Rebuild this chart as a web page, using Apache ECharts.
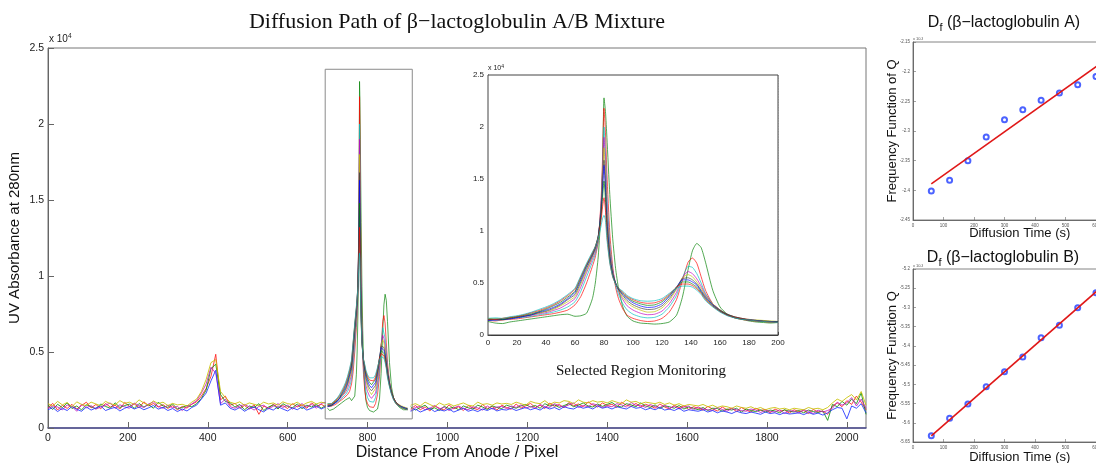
<!DOCTYPE html>
<html><head><meta charset="utf-8">
<script src="https://cdn.jsdelivr.net/npm/echarts@6/dist/echarts.min.js"></script>
<style>html,body{margin:0;padding:0;background:#fff}#c{width:1096px;height:463px}</style>
</head><body><div id="c"></div>
<script>
// ---------------- DATA ----------------
// Main plot baseline traces: sampled every 12 pixels, left part from 0, right part from 908
const baseStep = 12;
const leftStart = 0;
const rightStart = 908;
const baseL1 = [1350,1620,1180,1500,1290,1560,1240,1480,1700,1320,1550,1260,1610,1380,1500,1250,1680,1420,1590,1330,1720,1460,1610,1380,1540,1290,1470,1200,1420,1310,1560,1720,2100,2600,3400,4850,1850,2100,1500,1620,1300,1480,1250,1530,900,1450,1300,1560,1350,1480,1280,1600,1390,1520,1300,1650,1420,1560,1380];
const baseL2 = [1480,1220,1560,1340,1650,1280,1450,1190,1530,1400,1260,1580,1420,1300,1660,1350,1480,1570,1290,1610,1380,1540,1300,1690,1450,1360,1580,1250,1350,1480,1400,1600,1950,2500,3900,4200,2200,1750,1650,1380,1550,1200,1450,1340,1600,1150,1380,1520,1250,1600,1420,1330,1580,1270,1500,1380,1560,1300,1490];
const baseL3 = [1300,1450,1380,1190,1520,1420,1100,1560,1330,1470,1240,1380,1500,1650,1280,1530,1390,1300,1640,1470,1350,1580,1720,1420,1300,1500,1330,1420,1150,1400,1580,1800,2300,2900,4000,3600,1600,1900,1400,1300,1450,1550,1380,1180,1420,1500,1260,1430,1600,1350,1500,1240,1450,1600,1380,1550,1300,1620,1700];
const baseL4 = [1200,1350,1080,1300,1150,1420,1230,1100,1380,1180,1320,1450,1150,1270,1360,1120,1300,1420,1250,1380,1200,1330,1480,1240,1360,1150,1280,1080,1250,1120,1350,1500,1900,2300,3100,3800,1500,1650,1300,1180,1350,1100,1280,1400,1200,1060,1300,1180,1400,1250,1120,1330,1200,1400,1180,1300,1450,1250,1400];
const baseL5 = [1600,1450,1750,1520,1680,1400,1720,1550,1480,1700,1580,1460,1750,1600,1520,1800,1620,1700,1550,1850,1640,1500,1780,1600,1700,1480,1620,1520,1560,1450,1700,1900,2400,3200,4300,4500,2400,2000,1700,1600,1720,1500,1650,1560,1480,1700,1580,1650,1500,1720,1600,1550,1700,1480,1650,1750,1580,1700,1620];
const baseR1 = [1250,1480,1200,1390,1120,1450,1300,1180,1520,1260,1400,1150,1480,1320,1200,1550,1280,1420,1180,1500,1350,1230,1580,1300,1460,1620,1350,1500,1280,1640,1420,1550,1330,1680,1460,1580,1400,1720,1520,1380,1650,1480,1560,1350,1700,1500,1420,1620,1380,1560,1450,1300,1580,1380,1250,1500,1340,1460,1220,1400,1300,1180,1420,1250,1120,1380,1200,1300,1080,1350,1180,1050,1300,1150,1220,1000,1250,1100,1180,980,1200,1080,1150,950,1220,1050,1120,900,1450,1650,1400,1800,1550,2100,1700,1200];
const baseR2 = [1400,1180,1350,1500,1220,1330,1150,1420,1280,1380,1200,1450,1330,1250,1500,1380,1220,1460,1350,1280,1500,1400,1300,1450,1550,1380,1480,1300,1600,1450,1520,1350,1480,1600,1400,1500,1650,1450,1380,1580,1420,1550,1680,1450,1380,1600,1520,1400,1650,1450,1350,1520,1280,1450,1400,1300,1480,1250,1380,1300,1200,1350,1150,1300,1280,1100,1250,1180,1300,1050,1250,1150,1080,1200,1050,1180,1120,1000,1200,1100,1050,1150,1000,1180,1080,1020,1120,500,1550,1400,1750,1500,1900,1600,2300,900];
const baseR3 = [1150,1350,1420,1200,1300,1480,1250,1380,1150,1320,1450,1280,1200,1400,1320,1180,1450,1250,1380,1420,1280,1450,1350,1520,1300,1420,1280,1550,1400,1350,1600,1450,1380,1520,1650,1350,1480,1400,1600,1500,1350,1450,1400,1600,1520,1380,1680,1480,1500,1350,1550,1400,1350,1500,1300,1420,1250,1380,1450,1200,1380,1250,1200,1150,1350,1220,1100,1280,1200,1150,1100,1250,1180,1020,1150,1100,1050,1200,950,1150,1100,980,1200,1100,950,1180,1050,1150,1300,1700,1500,1650,2000,1450,1900,1300];
const baseR4 = [1100,1250,1050,1180,1300,1080,1200,1120,1250,1050,1180,1300,1100,1200,1080,1250,1150,1300,1120,1220,1180,1300,1150,1250,1350,1200,1300,1180,1380,1250,1350,1200,1400,1300,1250,1420,1300,1380,1250,1450,1300,1380,1250,1400,1320,1250,1420,1300,1350,1200,1300,1200,1350,1180,1250,1150,1300,1100,1200,1150,1100,1200,1050,1150,1000,1120,1050,950,1100,1000,950,1050,980,900,1050,950,1000,880,1000,920,950,1000,880,1020,900,980,850,1000,1200,1350,1300,600,1450,1300,1600,1000];
const baseR5 = [1500,1600,1450,1700,1550,1400,1650,1500,1600,1450,1550,1650,1500,1450,1700,1550,1600,1500,1650,1580,1620,1550,1700,1600,1500,1750,1650,1600,1800,1550,1700,1650,1800,1750,1600,1850,1700,1650,1800,1700,1750,1650,1800,1700,1600,1850,1700,1750,1600,1700,1650,1600,1700,1550,1650,1500,1600,1450,1550,1500,1450,1550,1400,1500,1350,1450,1400,1300,1450,1350,1300,1400,1250,1350,1200,1300,1350,1250,1300,1200,1300,1250,1200,1350,1250,1300,1200,1350,1650,1900,1750,2000,2200,1850,2400,1500];
const baseLeft = [baseL1, baseL2, baseL3, baseL4, baseL5];
const baseRight = [baseR1, baseR2, baseR3, baseR4, baseR5];
const baseColors = ['#ff2020', '#109010', '#c020c0', '#2030ff', '#c8c000'];

// Selected region (inset) traces, x in pixels relative to region start
const regionOffset = 700;
const selectedRegionX = [694, 912];
const selectedRegionY = [600, 23600];
const insetX = [0,5,10,15,20,25,30,35,40,45,50,55,60,64,68,72,74,76,78,79,80,81,82,84,86,88,90,93,96,100,105,110,115,120,125,130,134,138,141,144,147,150,155,160,165,170,175,180,185,190,195,200];
const trace1 = [1300,1150,1100,1250,1350,1450,1550,1650,1750,1850,1950,2000,1800,1850,2100,3500,5000,7500,12000,16000,22800,21500,19000,13500,9300,6400,4500,2700,1800,1350,1150,1100,1050,1100,1250,1900,3600,6300,8100,8800,8400,7000,4300,2700,2000,1650,1500,1350,1250,1200,1150,1200];
const trace2 = [1400,1350,1450,1500,1550,1650,1750,1850,1950,2050,2200,2400,2900,3700,5000,6600,7500,9000,13000,17000,21800,19500,15500,9800,6600,4600,3500,2500,1900,1600,1400,1300,1350,1600,2200,3400,5200,7000,7400,6900,5600,4300,3000,2400,1900,1650,1500,1400,1350,1300,1250,1250];
const trace3 = [1450,1400,1500,1550,1650,1700,1800,1950,2050,2200,2400,2700,3200,4200,5600,7000,7800,9000,12500,16000,20000,17500,13500,8800,6300,4800,3900,3000,2400,2000,1750,1650,1700,2000,2700,3800,5400,6600,6500,5900,5000,4000,3000,2400,1950,1700,1550,1450,1400,1350,1300,1300];
const trace4 = [1500,1450,1550,1600,1700,1800,1900,2050,2150,2350,2600,3000,3500,4600,6000,7300,8000,9200,12500,15500,19000,16500,12500,8300,6200,5000,4200,3400,2800,2400,2100,1950,2000,2300,3000,4100,5500,6100,5900,5400,4700,3900,3000,2400,2000,1750,1600,1500,1400,1350,1300,1300];
const trace5 = [1600,1500,1600,1650,1750,1850,1950,2100,2250,2450,2800,3200,3700,4900,6200,7500,8200,9300,12200,15000,18000,15500,11800,8000,6000,5000,4300,3600,3100,2700,2400,2200,2250,2600,3300,4400,5500,5800,5600,5100,4500,3800,3000,2400,2000,1750,1600,1500,1450,1400,1350,1300];
const trace6 = [1450,1500,1450,1600,1700,1800,1950,2150,2300,2550,2900,3400,3900,5100,6400,7600,8300,9400,12000,14500,16800,14500,11200,7700,5900,5000,4400,3800,3300,2900,2600,2450,2500,2800,3500,4500,5400,5500,5300,4900,4300,3700,2900,2400,2000,1750,1600,1450,1400,1350,1300,1250];
const trace7 = [1400,1450,1500,1550,1650,1800,1950,2200,2400,2650,3000,3500,4100,5300,6600,7700,8400,9500,11800,14000,16300,14000,10800,7500,5800,5000,4400,3900,3500,3100,2800,2650,2700,3000,3700,4600,5300,5300,5100,4800,4200,3600,2900,2300,1950,1700,1550,1450,1400,1300,1300,1250];
const trace8 = [1500,1550,1500,1650,1750,1900,2050,2250,2500,2800,3150,3650,4200,5500,6700,7800,8500,9500,11500,13200,14800,13000,10200,7200,5700,4950,4450,4000,3600,3250,3000,2850,2900,3200,3800,4600,5100,5100,4900,4600,4100,3500,2800,2300,1950,1700,1550,1450,1350,1300,1250,1250];
const trace9 = [1550,1500,1600,1700,1800,1950,2150,2350,2600,2900,3300,3800,4400,5600,6800,7900,8500,9400,11000,12300,13200,12000,9600,7000,5600,4900,4500,4100,3700,3400,3150,3050,3100,3350,3900,4600,4900,4900,4750,4450,4000,3400,2750,2250,1900,1700,1550,1450,1350,1300,1250,1200];
const trace10 = [1600,1650,1600,1750,1850,2000,2200,2450,2700,3000,3400,3900,4500,5700,6900,8000,8500,9300,10500,11200,11500,11000,9200,6900,5600,4900,4500,4200,3800,3500,3300,3250,3300,3500,4000,4500,4700,4700,4600,4300,3900,3300,2700,2200,1850,1650,1500,1450,1350,1300,1250,1200];
const insetTraces = [trace1, trace2, trace3, trace4, trace5, trace6, trace7, trace8, trace9, trace10];
const insetColors = ['#008000', '#ff0000', '#00bfbf', '#bf00bf', '#bfbf00', '#404040', '#0000ff', '#008000', '#ff0000', '#00bfbf'];

// Side panels
const diffusionTime = [60, 120, 180, 240, 300, 360, 420, 480, 540, 600];
const dfA = [-2.401, -2.383, -2.350, -2.310, -2.281, -2.264, -2.248, -2.236, -2.222, -2.208];
const fitAX = [60, 700];
const fitAY = [-2.389, -2.155];
const dfB = [-5.634, -5.588, -5.551, -5.506, -5.467, -5.429, -5.379, -5.346, -5.301, -5.262];
const fitBX = [60, 700];
const fitBY = [-5.634, -5.190];

// ---------------- CHART ----------------
const chart = echarts.init(document.getElementById('c'), null, {renderer: 'canvas'});
const SANS = '"Liberation Sans", Arial, Helvetica, sans-serif';
const SERIF = '"Liberation Serif", "Times New Roman", serif';
const plain = v => String(v);

const series = [];
baseLeft.forEach((arr, i) => {
  series.push({type: 'line', xAxisIndex: 0, yAxisIndex: 0, showSymbol: false, silent: true,
    data: arr.map((v, k) => [leftStart + k * baseStep, v]),
    lineStyle: {width: 1, color: baseColors[i], opacity: 0.85}});
});
baseRight.forEach((arr, i) => {
  series.push({type: 'line', xAxisIndex: 0, yAxisIndex: 0, showSymbol: false, silent: true,
    data: arr.map((v, k) => [rightStart + k * baseStep, v]),
    lineStyle: {width: 1, color: baseColors[i], opacity: 0.85}});
});
insetTraces.forEach((arr, i) => {
  series.push({type: 'line', xAxisIndex: 0, yAxisIndex: 0, showSymbol: false, silent: true,
    data: arr.map((v, k) => [regionOffset + insetX[k], v]),
    lineStyle: {width: 0.8, color: insetColors[i], opacity: 0.85}});
});
// selected-region rectangle
series.push({type: 'line', xAxisIndex: 0, yAxisIndex: 0, showSymbol: false, silent: true,
  data: [[selectedRegionX[0], selectedRegionY[0]], [selectedRegionX[1], selectedRegionY[0]],
         [selectedRegionX[1], selectedRegionY[1]], [selectedRegionX[0], selectedRegionY[1]],
         [selectedRegionX[0], selectedRegionY[0]]],
  lineStyle: {width: 1, color: '#8a8a8a'}, z: 5});
// inset
insetTraces.forEach((arr, i) => {
  series.push({type: 'line', xAxisIndex: 1, yAxisIndex: 1, showSymbol: false, silent: true, smooth: 0.2,
    data: arr.map((v, k) => [insetX[k], v]),
    lineStyle: {width: 0.8, color: insetColors[i], opacity: 0.85}});
});
// side panels
series.push({type: 'line', xAxisIndex: 2, yAxisIndex: 2, showSymbol: false, silent: true,
  data: fitAX.map((x, k) => [x, fitAY[k]]), lineStyle: {width: 1.6, color: '#e01818'}});
series.push({type: 'scatter', xAxisIndex: 2, yAxisIndex: 2, silent: true, symbol: 'emptyCircle', symbolSize: 5,
  data: diffusionTime.map((x, k) => [x, dfA[k]]), itemStyle: {color: '#1f3cff', borderWidth: 1.6}});
series.push({type: 'line', xAxisIndex: 3, yAxisIndex: 3, showSymbol: false, silent: true,
  data: fitBX.map((x, k) => [x, fitBY[k]]), lineStyle: {width: 1.6, color: '#e01818'}});
series.push({type: 'scatter', xAxisIndex: 3, yAxisIndex: 3, silent: true, symbol: 'emptyCircle', symbolSize: 5,
  data: diffusionTime.map((x, k) => [x, dfB[k]]), itemStyle: {color: '#1f3cff', borderWidth: 1.6}});

const fmt2 = v => String(parseFloat(v.toFixed(2)));
const smallAxis = (gridIndex, min, max, interval, isY, name, gap) => ({
  type: 'value', min, max, interval, gridIndex,
  axisLine: {show: true, lineStyle: {color: '#555', width: 0.8}},
  axisTick: {show: true, inside: true, length: 3, lineStyle: {color: '#666', width: 0.6}},
  axisLabel: {fontSize: 4.5, color: '#555', margin: 3, fontFamily: SANS, formatter: isY ? fmt2 : plain},
  splitLine: {show: false},
  name, nameLocation: 'middle', nameGap: gap, nameMoveOverlap: false,
  nameTextStyle: {fontSize: 13, fontFamily: SANS, color: '#111'}
});

const option = {
  animation: false,
  backgroundColor: '#ffffff',
  grid: [
    {left: 48, top: 48, width: 818, height: 380, show: true, borderColor: '#777', borderWidth: 1, outerBoundsMode: 'none', containLabel: false},
    {left: 488, top: 75, width: 290, height: 260, show: true, borderColor: '#444', borderWidth: 1, backgroundColor: '#fff', z: 3, outerBoundsMode: 'none', containLabel: false},
    {left: 913, top: 42, width: 213.5, height: 178, show: true, borderColor: '#666', borderWidth: 0.8, outerBoundsMode: 'none', containLabel: false},
    {left: 913, top: 269, width: 213.5, height: 173, show: true, borderColor: '#666', borderWidth: 0.8, outerBoundsMode: 'none', containLabel: false}
  ],
  xAxis: [
    {type: 'value', gridIndex: 0, min: 0, max: 2048, interval: 200,
     axisLine: {lineStyle: {color: '#4a4a90', width: 1.5}},
     axisTick: {inside: true, length: 6, lineStyle: {color: '#666'}},
     axisLabel: {fontSize: 10.5, color: '#222', margin: 5, fontFamily: SANS, showMaxLabel: false, formatter: plain},
     splitLine: {show: false},
     name: 'Distance From Anode / Pixel', nameLocation: 'middle', nameGap: 17, nameMoveOverlap: false,
     nameTextStyle: {fontSize: 16, fontFamily: SANS, color: '#111'}},
    {type: 'value', gridIndex: 1, min: 0, max: 200, interval: 20,
     axisLine: {lineStyle: {color: '#333', width: 1}},
     axisTick: {inside: true, length: 3, lineStyle: {color: '#444'}},
     axisLabel: {fontSize: 8, color: '#222', margin: 4, fontFamily: SANS, formatter: plain},
     splitLine: {show: true, lineStyle: {type: 'dotted', color: '#bdbdbd', width: 0.8}}},
    smallAxis(2, 0, 700, 100, false, 'Diffusion Time (s)', 7),
    smallAxis(3, 0, 700, 100, false, 'Diffusion Time (s)', 9)
  ],
  yAxis: [
    {type: 'value', gridIndex: 0, min: 0, max: 25000, interval: 5000,
     axisLine: {show: true, lineStyle: {color: '#666', width: 1}},
     axisTick: {show: true, inside: true, length: 6, lineStyle: {color: '#666'}},
     axisLabel: {fontSize: 10.5, color: '#222', margin: 4, fontFamily: SANS, formatter: v => String(v / 10000)},
     splitLine: {show: false},
     name: 'UV Absorbance at 280nm', nameLocation: 'middle', nameGap: 26, nameMoveOverlap: false,
     nameTextStyle: {fontSize: 15, fontFamily: SANS, color: '#111'}},
    {type: 'value', gridIndex: 1, min: 0, max: 25000, interval: 5000,
     axisLine: {show: true, lineStyle: {color: '#333', width: 1}},
     axisTick: {show: true, inside: true, length: 3, lineStyle: {color: '#444'}},
     axisLabel: {fontSize: 8, color: '#222', margin: 4, fontFamily: SANS, formatter: v => String(v / 10000)},
     splitLine: {show: true, lineStyle: {type: 'dotted', color: '#bdbdbd', width: 0.8}}},
    smallAxis(2, -2.45, -2.15, 0.05, true, 'Frequency Function of Q', 14),
    smallAxis(3, -5.65, -5.2, 0.05, true, 'Frequency Function Q', 14)
  ],
  graphic: [
    {type: 'text', x: 457, y: 22, z: 10, style: {text: 'Diffusion Path of β−lactoglobulin A/B Mixture',
      font: '22px ' + SERIF, fill: '#111', textAlign: 'center', textVerticalAlign: 'middle', align: 'center', verticalAlign: 'middle'}},
    {type: 'text', x: 641, y: 371, z: 10, style: {text: 'Selected Region Monitoring',
      font: '15px ' + SERIF, fill: '#111', textAlign: 'center', textVerticalAlign: 'middle', align: 'center', verticalAlign: 'middle'}},
    {type: 'text', x: 49, y: 46, z: 10, style: {text: 'x 10{s|4}', font: '10px ' + SANS, fill: '#222',
      textVerticalAlign: 'bottom', verticalAlign: 'bottom', rich: {s: {fontSize: 6.5, fontFamily: SANS, fill: '#222', padding: [0, 0, 6, 0]}}}},
    {type: 'text', x: 488, y: 73, z: 10, style: {text: 'x 10{s|4}', font: '7px ' + SANS, fill: '#222',
      textVerticalAlign: 'bottom', verticalAlign: 'bottom', rich: {s: {fontSize: 5, fontFamily: SANS, fill: '#222', padding: [0, 0, 4, 0]}}}},
    {type: 'text', x: 1004, y: 23, z: 10, style: {text: '{n|D}{f|f}{n| (β−lactoglobulin A)}', fill: '#111',
      textAlign: 'center', textVerticalAlign: 'middle', align: 'center', verticalAlign: 'middle',
      rich: {n: {fontSize: 16, fontFamily: SANS, fill: '#111'}, f: {fontSize: 11, fontFamily: SANS, fill: '#111', padding: [9, 0, 0, 0]}}}},
    {type: 'text', x: 1003, y: 258, z: 10, style: {text: '{n|D}{f|f}{n| (β−lactoglobulin B)}', fill: '#111',
      textAlign: 'center', textVerticalAlign: 'middle', align: 'center', verticalAlign: 'middle',
      rich: {n: {fontSize: 16, fontFamily: SANS, fill: '#111'}, f: {fontSize: 11, fontFamily: SANS, fill: '#111', padding: [9, 0, 0, 0]}}}},
    {type: 'text', x: 913, y: 41, z: 10, style: {text: 'x 10{s|-3}', font: '4px ' + SANS, fill: '#555',
      textVerticalAlign: 'bottom', verticalAlign: 'bottom', rich: {s: {fontSize: 3, fill: '#555'}}}},
    {type: 'text', x: 913, y: 268, z: 10, style: {text: 'x 10{s|-3}', font: '4px ' + SANS, fill: '#555',
      textVerticalAlign: 'bottom', verticalAlign: 'bottom', rich: {s: {fontSize: 3, fill: '#555'}}}}
  ],
  series
};
chart.setOption(option);
</script>
</body></html>
